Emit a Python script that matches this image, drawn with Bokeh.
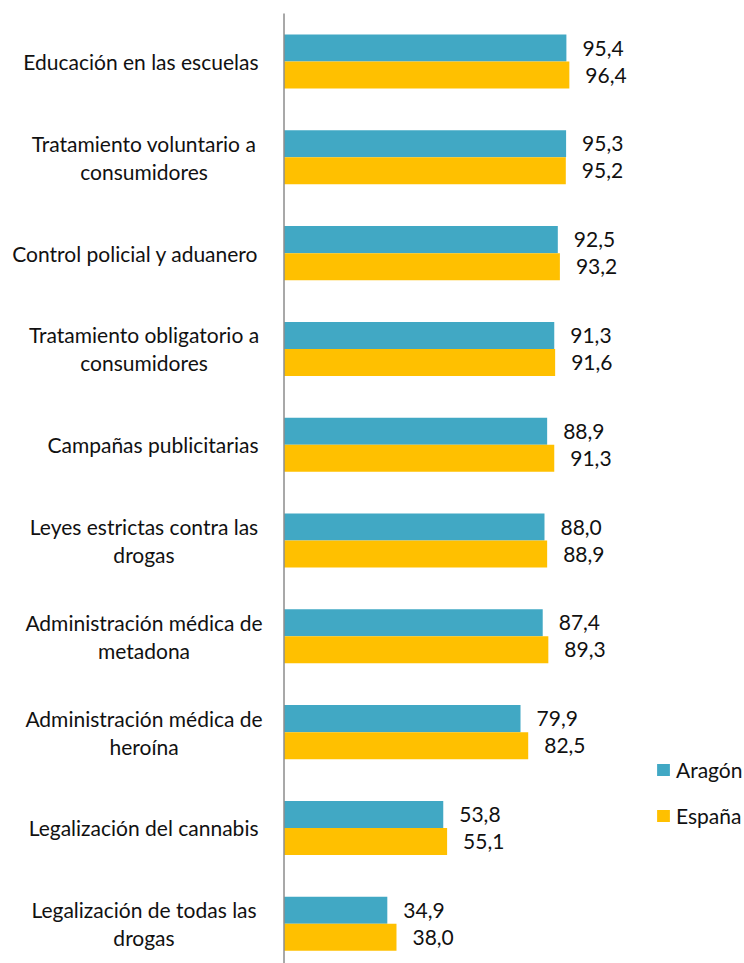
from bokeh.plotting import figure
from bokeh.models import ColumnDataSource, Range1d, Legend, LegendItem
from bokeh.core.properties import value
from bokeh.embed import file_html
from bokeh.resources import INLINE

categories = [
    "Educación en las escuelas",
    "Tratamiento voluntario a\nconsumidores",
    "Control policial y aduanero",
    "Tratamiento obligatorio a\nconsumidores",
    "Campañas publicitarias",
    "Leyes estrictas contra las\ndrogas",
    "Administración médica de\nmetadona",
    "Administración médica de\nheroína",
    "Legalización del cannabis",
    "Legalización de todas las\ndrogas",
]
aragon = [95.4, 95.3, 92.5, 91.3, 88.9, 88.0, 87.4, 79.9, 53.8, 34.9]
espana = [96.4, 95.2, 93.2, 91.6, 91.3, 88.9, 89.3, 82.5, 55.1, 38.0]
series_names = ["Aragón", "España"]

FONT = "Lato"
FS = "21px"
TEAL = "#41A8C4"
GOLD = "#FFC000"
TXT = "#111111"
BH = 0.282

idx = list(range(len(categories)))
fmt = lambda v: f"{v:.1f}".replace(".", ",")

src_a = ColumnDataSource(dict(y=[i - BH / 2 for i in idx], v=aragon, t=[fmt(v) for v in aragon]))
src_e = ColumnDataSource(dict(y=[i + BH / 2 for i in idx], v=espana, t=[fmt(v) for v in espana]))

p = figure(width=744, height=963, output_backend="svg", toolbar_location=None,
           x_range=Range1d(-95.78, 155.57), y_range=Range1d(9.415, -0.637),
           min_border=0, outline_line_color=None)
p.axis.visible = False
p.grid.visible = False

ra = p.hbar(y="y", right="v", left=0, height=BH, source=src_a, fill_color=TEAL, line_color=None)
re_ = p.hbar(y="y", right="v", left=0, height=BH, source=src_e, fill_color=GOLD, line_color=None)

for s in (src_a, src_e):
    p.text(x="v", y="y", text="t", source=s, x_offset=16, text_baseline="middle",
           text_align="left", text_font=value(FONT), text_font_size=FS, text_color=TXT)

# category axis line
p.segment(x0=[0], y0=[-0.5], x1=[0], y1=[len(categories) - 0.5],
          line_color="#8c8c8c", line_width=1.5)

# category labels
single = dict(y=[], t=[])
multi = dict(y=[], t=[], yo=[])
for i, c in enumerate(categories):
    lines = c.split("\n")
    if len(lines) == 1:
        single["y"].append(i)
        single["t"].append(c)
    else:
        n = len(lines)
        for j, ln in enumerate(lines):
            multi["y"].append(i)
            multi["t"].append(ln)
            multi["yo"].append((j - (n - 1) / 2) * 28)

p.text(x=0, y="y", text="t", source=ColumnDataSource(single), x_offset=-25.5,
       text_align="right", text_baseline="middle", text_font=value(FONT),
       text_font_size=FS, text_color=TXT)
p.text(x=0, y="y", text="t", source=ColumnDataSource(multi), x_offset=-140, y_offset="yo",
       text_align="center", text_baseline="middle", text_font=value(FONT),
       text_font_size=FS, text_color=TXT)

legend = Legend(items=[LegendItem(label=series_names[0], renderers=[ra]),
                       LegendItem(label=series_names[1], renderers=[re_])],
                location=(655, 135), orientation="vertical",
                glyph_width=16, glyph_height=15, label_standoff=5,
                label_height=15, spacing=21, padding=0, margin=0,
                border_line_color=None, background_fill_alpha=0,
                label_text_font=FONT, label_text_font_size=FS, label_text_color=TXT)
p.add_layout(legend)

open("out.html", "w").write(file_html(p, INLINE))
